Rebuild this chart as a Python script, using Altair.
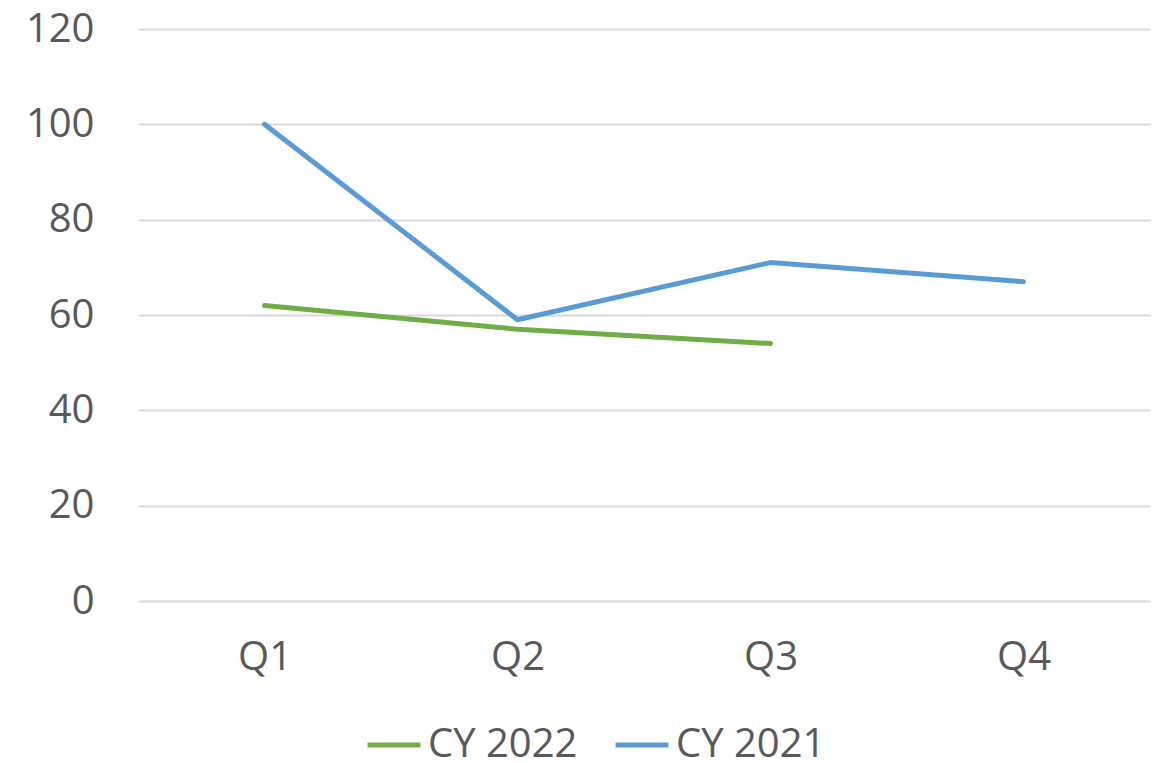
import altair as alt
import pandas as pd

quarters = ["Q1", "Q2", "Q3", "Q4"]
series_names = ["CY 2022", "CY 2021"]
cy2022 = [62, 57, 54, None]
cy2021 = [100, 59, 71, 67]
colors = ["#70AD47", "#5B9BD5"]

rows = []
for name, vals in zip(series_names, [cy2022, cy2021]):
    for q, v in zip(quarters, vals):
        if v is not None:
            rows.append({"quarter": q, "series": name, "value": v})
df = pd.DataFrame(rows)

FONT = "Open Sans"
TXT = "#595959"

chart = alt.Chart(df).mark_line(strokeWidth=5, strokeCap="round", strokeJoin="round").encode(
    x=alt.X("quarter:N", sort=quarters,
            scale=alt.Scale(type="point", padding=0.5, domain=quarters),
            axis=alt.Axis(title=None, labelAngle=0, domain=False, ticks=False,
                          labelFontSize=40, labelFont=FONT, labelColor=TXT,
                          labelPadding=36, grid=False)),
    y=alt.Y("value:Q", scale=alt.Scale(domain=[0, 120], nice=False),
            axis=alt.Axis(title=None, values=[0, 20, 40, 60, 80, 100, 120],
                          domain=False, ticks=False, labelFontSize=40,
                          labelFont=FONT, labelColor=TXT, labelPadding=44,
                          grid=True, gridColor="#D9D9D9", gridWidth=2)),
    color=alt.Color("series:N",
                    scale=alt.Scale(domain=series_names, range=colors),
                    legend=alt.Legend(title=None, orient="none", direction="horizontal",
                                      legendX=227, legendY=687,
                                      symbolType="stroke", symbolSize=2800,
                                      symbolStrokeWidth=5, labelFontSize=40,
                                      labelFont=FONT, labelColor=TXT,
                                      labelOffset=5, columnPadding=27, padding=0)),
    order=alt.Order("quarter:N"),
).properties(
    width=1012, height=572,
    background="white",
    autosize=alt.AutoSizeParams(type="none"),
    padding={"left": 130, "top": 21, "right": 8, "bottom": 160},
).configure_view(strokeWidth=0)

chart.save("out.html", embed_options={"renderer": "svg", "actions": False})
